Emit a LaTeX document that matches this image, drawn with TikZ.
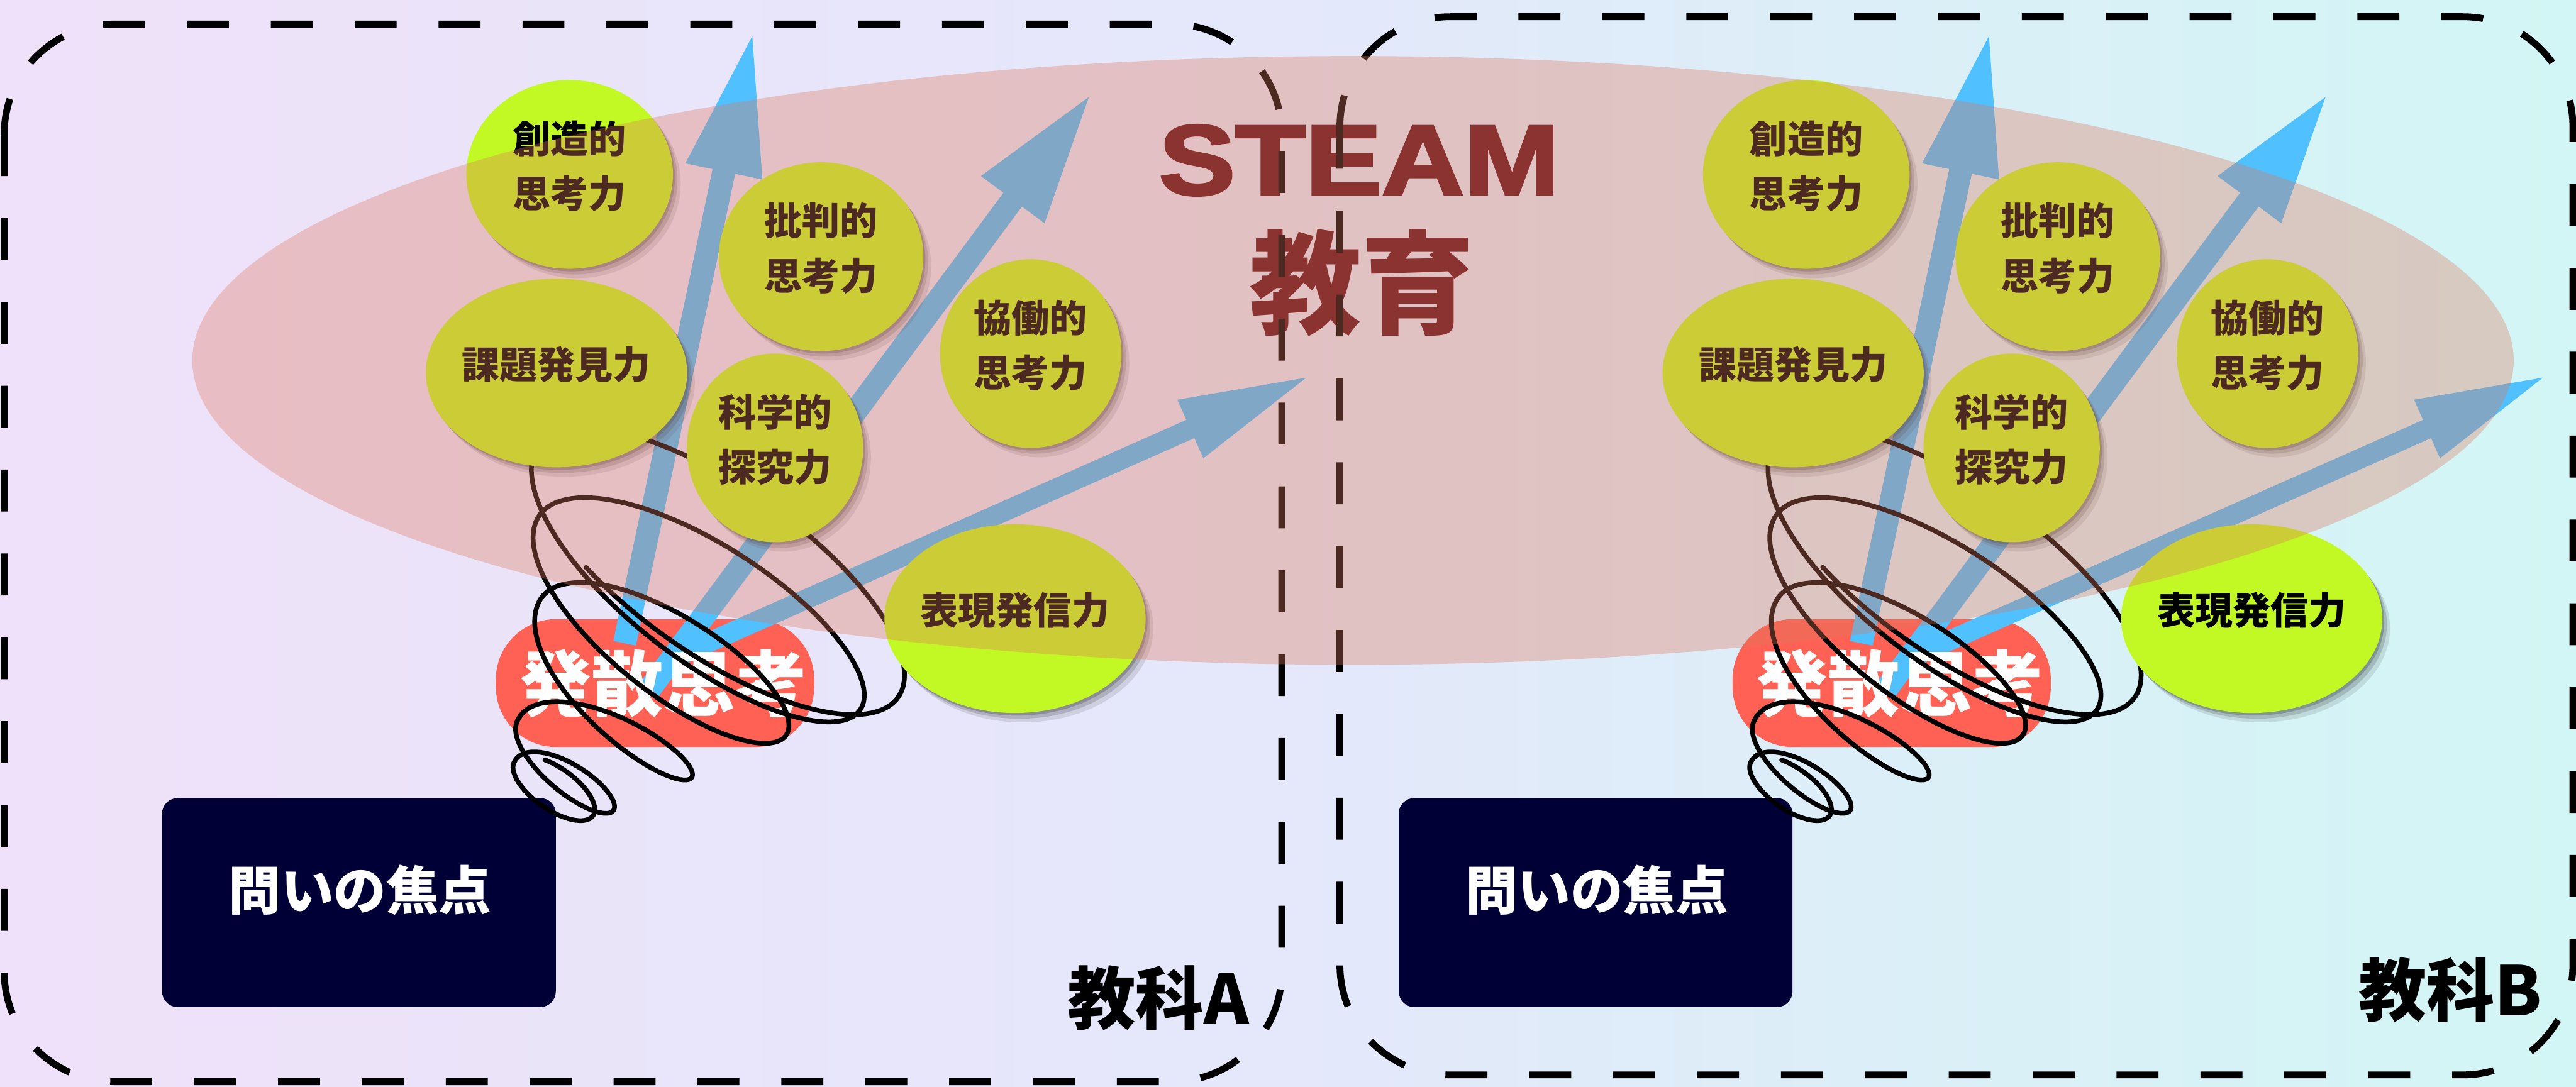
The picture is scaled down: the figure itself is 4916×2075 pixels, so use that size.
\documentclass[tikz,border=0pt]{standalone}
\usepackage{fontspec}
\setmainfont{Liberation Sans}
\newfontfamily\jp{Noto Sans CJK JP}
\newfontfamily\heavy{Liberation Sans Bold}[FakeBold=2.5]
\usetikzlibrary{arrows.meta,shapes.geometric}
\definecolor{bgL}{RGB}{239,225,249}
\definecolor{bgM}{RGB}{228,232,250}
\definecolor{bgR}{RGB}{210,246,245}
\definecolor{bubcol}{RGB}{194,248,35}
\definecolor{pillcol}{RGB}{255,97,85}
\definecolor{navy}{RGB}{0,0,54}
\definecolor{arrcol}{RGB}{80,192,255}
\definecolor{ovl}{RGB}{223,122,95}
\definecolor{steamcol}{RGB}{95,14,23}
\tikzset{
  dashbox/.style={draw=black, line width=0.13cm, dash pattern=on 0.8cm off 0.8cm, rounded corners=2.1cm},
  bubble/.style={ellipse, fill=bubcol, inner sep=0pt},
  btxt/.style={font=\jp\bfseries\fontsize{20.5}{29.8}\selectfont, align=center, text=black, inner sep=0pt},
  pillbox/.style={fill=pillcol, rounded corners=1.15cm, minimum width=6.07cm, minimum height=2.44cm, inner sep=0pt},
  qbox/.style={fill=navy, rounded corners=0.3cm, minimum width=7.51cm, minimum height=3.99cm, inner sep=0pt},
  qtxt/.style={font=\jp\bfseries\fontsize{28.5}{30}\selectfont, text=white, inner sep=0pt},
  ptxt/.style={font=\jp\bfseries\fontsize{39}{40}\selectfont, text=white, inner sep=0pt},
  coilline/.style={draw=black, line width=0.09cm, line cap=round, line join=round},
  subj/.style={font=\jp\bfseries\fontsize{37}{38}\selectfont, text=black, inner sep=0pt},
}
\newcommand\bub[6]{%
  \fill[black,opacity=.10] (#2+15,#3+18) ellipse [x radius=#4, y radius=#5];
  \fill[black,opacity=.15] (#2+9,#3+11) ellipse [x radius=#4, y radius=#5];
  \fill[black,opacity=.20] (#2+4,#3+5) ellipse [x radius=#4, y radius=#5];
  \node[bubble, minimum width=#4*0.02cm, minimum height=#5*0.02cm] (#1) at (#2,#3) {};
  \node[btxt] (#1t) at (#2,#3-16) {#6};
}
\newcommand\grp[1]{%
\begin{scope}[shift={(#1,0)}]
  \node[pillbox] (pill#1) at (1250,1304) {};
  \coordinate (ta#1) at (1192,1228); \coordinate (ha#1) at (1438,58);
  \coordinate (tb#1) at (1240,1315); \coordinate (hb#1) at (2084,177);
  \coordinate (tc#1) at (1290,1254); \coordinate (hc#1) at (2504,716);
  \draw[draw=arrcol, line width=0.44cm, -{Triangle[length=2.75cm,width=1.36cm]}] (ta#1) -- (ha#1);
  \draw[draw=arrcol, line width=0.44cm, -{Triangle[length=2.54cm,width=1.37cm]}] (tb#1) -- (hb#1);
  \draw[draw=arrcol, line width=0.38cm, -{Triangle[length=2.54cm,width=1.10cm]}] (tc#1) -- (hc#1);
  \node[ptxt] (ptx#1) at (1266,1305) {発散思考};
  \node[qbox] (q#1) at (685,1723) {};
  \node[qtxt] (qt#1) at (687,1699) {問いの焦点};
  \foreach \pa/\pb/\xa/\ya/\aa/\ba/\xb/\yb/\ab/\bb in {
     480/180/1370/1090/420/160/1370/1090/420/160,
     180/-180/1370/1090/420/160/1300/1180/334/125,
     -180/-540/1300/1180/334/125/1230/1288/245/95,
     -540/-900/1230/1288/245/95/1100/1454/137/50,
     -900/-1260/1100/1454/137/50/1057/1505/91/40,
     -1260/-1560/1057/1505/91/40/1057/1505/91/40}{
    \draw[coilline] plot[smooth, domain=0:1, samples=90, variable=\s]
      ({\xa+(\xb-\xa)*\s + (\aa+(\ab-\aa)*\s)*cos(\pa+(\pb-\pa)*\s)*0.8192 - (\ba+(\bb-\ba)*\s)*sin(\pa+(\pb-\pa)*\s)*0.5736},
       {\ya+(\yb-\ya)*\s + (\aa+(\ab-\aa)*\s)*cos(\pa+(\pb-\pa)*\s)*0.5736 + (\ba+(\bb-\ba)*\s)*sin(\pa+(\pb-\pa)*\s)*0.8192});
  }
  \bub{cA#1}{1087}{333}{197}{180}{創造的\\思考力}
  \bub{cB#1}{1567}{490}{195}{180}{批判的\\思考力}
  \bub{cC#1}{1062}{712}{249}{180}{課題発見力}
  \bub{cD#1}{1479}{855}{168}{180}{科学的\\探究力}
  \bub{cE#1}{1967}{675}{173}{180}{協働的\\思考力}
  \bub{cF#1}{1937}{1181}{249}{180}{表現発信力}
\end{scope}}

\begin{document}
\begin{tikzpicture}[x=0.01cm, y=-0.01cm]
  \useasboundingbox (0,0) rectangle (4916,2075);
  \shade[left color=bgL, right color=bgR, middle color=bgM] (0,0) rectangle (4916,2075);
  \node[font=\heavy\fontsize{54}{54}\selectfont, text=steamcol, xscale=1.15, inner sep=0pt] (steam) at (2594,306) {STEAM};
  \node[font=\jp\bfseries\fontsize{61}{61}\selectfont, text=steamcol, inner sep=0pt] (kyoiku) at (2599,540) {教育};
  \draw[dashbox] (8,46) rectangle (2446,2065);
  \draw[dashbox] (2557,32) rectangle (4910,2052);
  \grp{0}
  \grp{2360}
  \fill[ovl, opacity=.35] (2582,688) ellipse [x radius=2215, y radius=581];
  \node[subj] (subjA) at (2210,1905) {教科A};
  \node[subj] (subjB) at (4676,1890) {教科B};
\end{tikzpicture}
\end{document}
